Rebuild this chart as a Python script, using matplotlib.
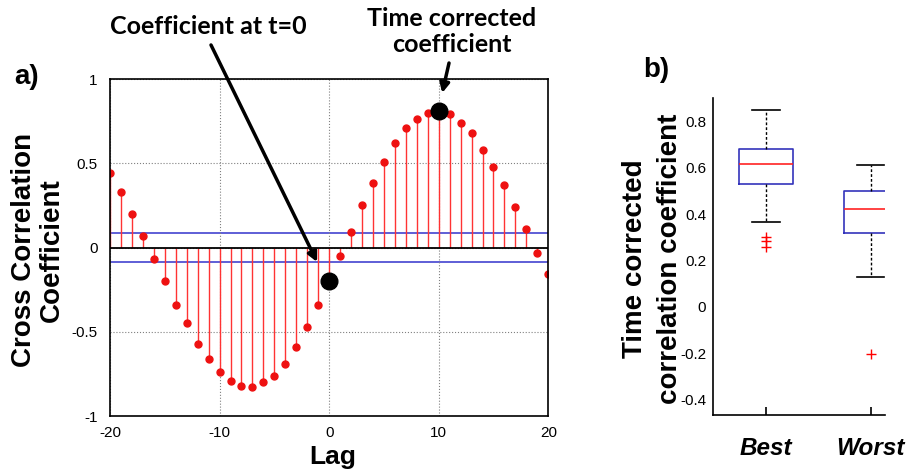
import numpy as np
import matplotlib
matplotlib.use('Agg')
import matplotlib.pyplot as plt

plt.rcParams['font.family'] = ['Liberation Sans', 'DejaVu Sans']
plt.rcParams['axes.unicode_minus'] = False

# cross correlation at each lag (panel a)
lags = list(range(-20, 21))
xcorr = [0.44, 0.33, 0.20, 0.07, -0.07, -0.20, -0.34, -0.45, -0.57, -0.66,
         -0.74, -0.79, -0.82, -0.83, -0.80, -0.76, -0.69, -0.59, -0.47, -0.34,
         -0.20, -0.05, 0.09, 0.25, 0.38, 0.51, 0.62, 0.71, 0.76, 0.80,
         0.81, 0.79, 0.74, 0.68, 0.58, 0.48, 0.37, 0.24, 0.11, -0.03, -0.16]
conf_bound = 0.087
lag_t0 = 0
lag_best = 10

# box plot summaries (panel b)
groups = ['Best', 'Worst']
whislo = [0.366, 0.127]
q1 = [0.53, 0.317]
med = [0.617, 0.422]
q3 = [0.68, 0.499]
whishi = [0.85, 0.613]
fliers = [[0.30, 0.285, 0.26], [-0.205]]

fig = plt.figure(figsize=(9.13, 4.72), dpi=100)

# ---- panel a ----
ax = fig.add_axes([0.1205, 0.1186, 0.480, 0.714])
ax.axhline(conf_bound, color='#3333cc', lw=1.1, zorder=1)
ax.axhline(-conf_bound, color='#3333cc', lw=1.1, zorder=1)
ml, sl, bl = ax.stem(lags, xcorr, linefmt='r-', markerfmt='ro', basefmt='k-')
plt.setp(sl, linewidth=1.0, color='#ff3333')
plt.setp(ml, markersize=5, color='#ee1111')
plt.setp(bl, linewidth=1.3, color='black')
bl.set_xdata([-20, 20])
i0 = lags.index(lag_t0)
i1 = lags.index(lag_best)
ax.plot([lag_t0, lag_best], [xcorr[i0], xcorr[i1]], 'o', color='black',
        markersize=12, linestyle='none', zorder=5)
ax.set_xlim(-20, 20)
ax.set_ylim(-1, 1)
ax.set_xticks([-20, -10, 0, 10, 20])
ax.set_yticks([-1, -0.5, 0, 0.5, 1])
ax.set_yticklabels(['-1', '-0.5', '0', '0.5', '1'])
ax.grid(True, color='gray', linestyle=':', linewidth=0.8)
ax.tick_params(axis='both', direction='in', length=0, labelsize=11)
ax.tick_params(axis='x', pad=7)
ax.tick_params(axis='y', pad=9)
for s in ax.spines.values():
    s.set_linewidth(1.2)
ax.set_xlabel('Lag', fontsize=19, fontweight='bold', va='center')
ax.xaxis.set_label_coords(0.507, -0.122)
ax.set_ylabel('Cross Correlation\nCoefficient', fontsize=20, fontweight='bold',
              linespacing=1.1, va='center')
ax.yaxis.set_label_coords(-0.164, 0.493)

# annotations: text and arrows
fig.text(0.228, 0.943, 'Coefficient at t=0', ha='center', va='center',
         fontsize=18, fontweight='bold', family=['Lato', 'DejaVu Sans'])
fig.text(0.495, 0.934, 'Time corrected\ncoefficient', ha='center', va='center',
         fontsize=18, fontweight='bold', family=['Lato', 'DejaVu Sans'],
         linespacing=1.15)
ax.annotate('', xy=(-1.1, -0.086), xycoords='data',
            xytext=(0.2311, 0.9047), textcoords='figure fraction',
            arrowprops=dict(arrowstyle='-|>', color='black', lw=2.5,
                            mutation_scale=14, shrinkA=0, shrinkB=0))
ax.annotate('', xy=(10.32, 0.917), xycoords='data',
            xytext=(0.4918, 0.8665), textcoords='figure fraction',
            arrowprops=dict(arrowstyle='-|>', color='black', lw=2.5,
                            mutation_scale=14, shrinkA=0, shrinkB=0))
fig.text(0.029, 0.837, 'a)', fontsize=20, fontweight='bold', ha='center', va='center')

# ---- panel b ----
bx = fig.add_axes([0.781, 0.1208, 0.188, 0.6716])
stats = []
for i, g in enumerate(groups):
    stats.append(dict(label=g, whislo=whislo[i], q1=q1[i], med=med[i],
                      q3=q3[i], whishi=whishi[i], fliers=fliers[i]))
bx.bxp(stats, positions=[1, 2], widths=0.52, showfliers=True,
       boxprops=dict(color='#3333bb', linewidth=1.2),
       medianprops=dict(color='#ff2222', linewidth=1.2),
       whiskerprops=dict(color='black', linestyle=(0, (2, 1.5)), linewidth=1.0),
       capprops=dict(color='black', linewidth=1.2),
       capwidths=0.26,
       flierprops=dict(marker='+', markeredgecolor='red', markersize=7,
                       linestyle='none'))
bx.set_xlim(0.495, 2.133)
bx.set_ylim(-0.466, 0.9)
bx.set_yticks([-0.4, -0.2, 0, 0.2, 0.4, 0.6, 0.8])
bx.set_yticklabels(['-0.4', '-0.2', '0', '0.2', '0.4', '0.6', '0.8'])
bx.spines['top'].set_visible(False)
bx.spines['right'].set_visible(False)
bx.spines['left'].set_linewidth(1.2)
bx.spines['bottom'].set_linewidth(1.2)
bx.tick_params(axis='y', direction='in', length=0, labelsize=11, pad=5)
bx.tick_params(axis='x', direction='in', length=6, width=1.2, pad=16)
for lbl in bx.get_xticklabels():
    lbl.set_fontsize(17.5)
    lbl.set_fontweight('bold')
    lbl.set_fontstyle('italic')
bx.set_ylabel('Time corrected\ncorrelation coefficient', fontsize=20,
              fontweight='bold', linespacing=1.45, va='center')
bx.yaxis.set_label_coords(-0.355, 0.492)
fig.text(0.719, 0.852, 'b)', fontsize=20, fontweight='bold', ha='center', va='center')

fig.savefig('out.png', dpi=100)
